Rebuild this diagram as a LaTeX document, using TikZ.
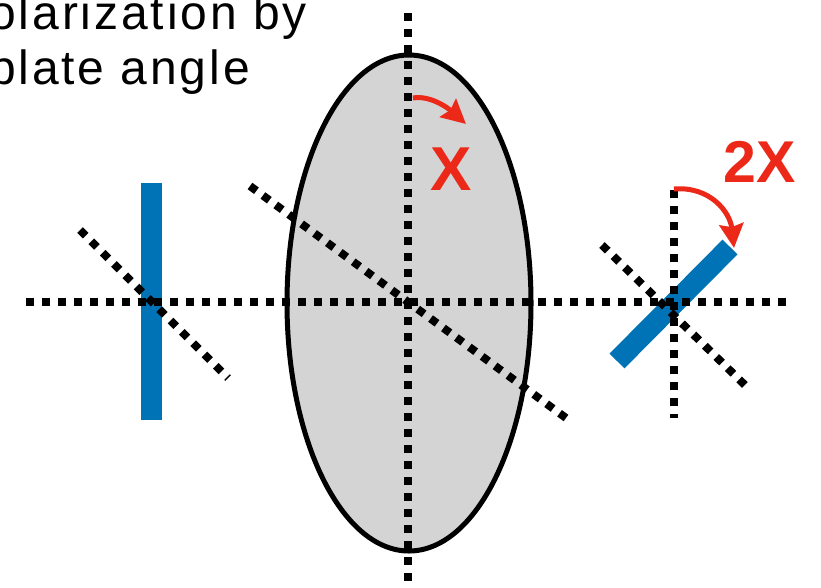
\documentclass[tikz,border=0pt]{standalone}
\usepackage{fontspec}
\setmainfont{Liberation Sans}
\newfontfamily\slidefont[LetterSpace=6]{Liberation Sans}
\usetikzlibrary{arrows.meta}

\definecolor{plateblue}{RGB}{0,114,182}
\definecolor{turnred}{RGB}{236,40,24}
\definecolor{beamgray}{RGB}{212,212,212}

\begin{document}
\begin{tikzpicture}[
  x=1pt, y=-1pt,
  dotline/.style={line width=8pt, dash pattern=on 8pt off 8pt},
  plate/.style={line width=21pt, draw=plateblue},
  turn/.style={-{Stealth[length=24pt, width=24pt, inset=3pt]}, line width=5pt, draw=turnred},
  caption/.style={anchor=base east, inner sep=0pt, font=\slidefont\fontsize{48}{55}\selectfont},
  anglelabel/.style={anchor=base, inner sep=0pt, text=turnred, font=\bfseries\fontsize{62}{62}\selectfont}
]
\useasboundingbox (0,0) rectangle (821,587);

% caption, cut off at the left edge
\node[caption] (cap1) at (307,29) {polarization by};
\node[caption] (cap2) at (250,84) {plate angle};

% centres of the three crosses
\coordinate (in) at (151,302);
\coordinate (wp) at (409,303);
\coordinate (out) at (674,302);

% polarization ellipse
\draw[line width=5pt, fill=beamgray] (wp) ellipse [x radius=122, y radius=248];

% input and output polarization
\draw[plate] (151,183) -- (151,420);
\draw[plate] (617,361) -- (730,247);

% axes
\draw[dotline] (26,302) -- (786,302);
\draw[dotline] (408,13) -- (408,582);
\draw[dotline] (250,186) -- (566,418);
\draw[dotline] (80,230) -- (228,378);
\draw[dotline] (674,190) -- (674,418);
\draw[dotline] (602,245) -- (750,390);

% rotation arrows
\coordinate (xstart) at (413,98);
\coordinate (xtip) at (466,124);
\draw[turn] (xstart) .. controls (430,95) and (448,108) .. (xtip);
\coordinate (twoxstart) at (674,189);
\coordinate (twoxtip) at (734,248);
\draw[turn] (twoxstart) .. controls (710,186) and (730,212) .. (twoxtip);

\node[anglelabel] (xlabel) at (451,190) {X};
\node[anglelabel, font=\bfseries\fontsize{59}{59}\selectfont] (twoxlabel) at (760,182) {2X};
\end{tikzpicture}
\end{document}
